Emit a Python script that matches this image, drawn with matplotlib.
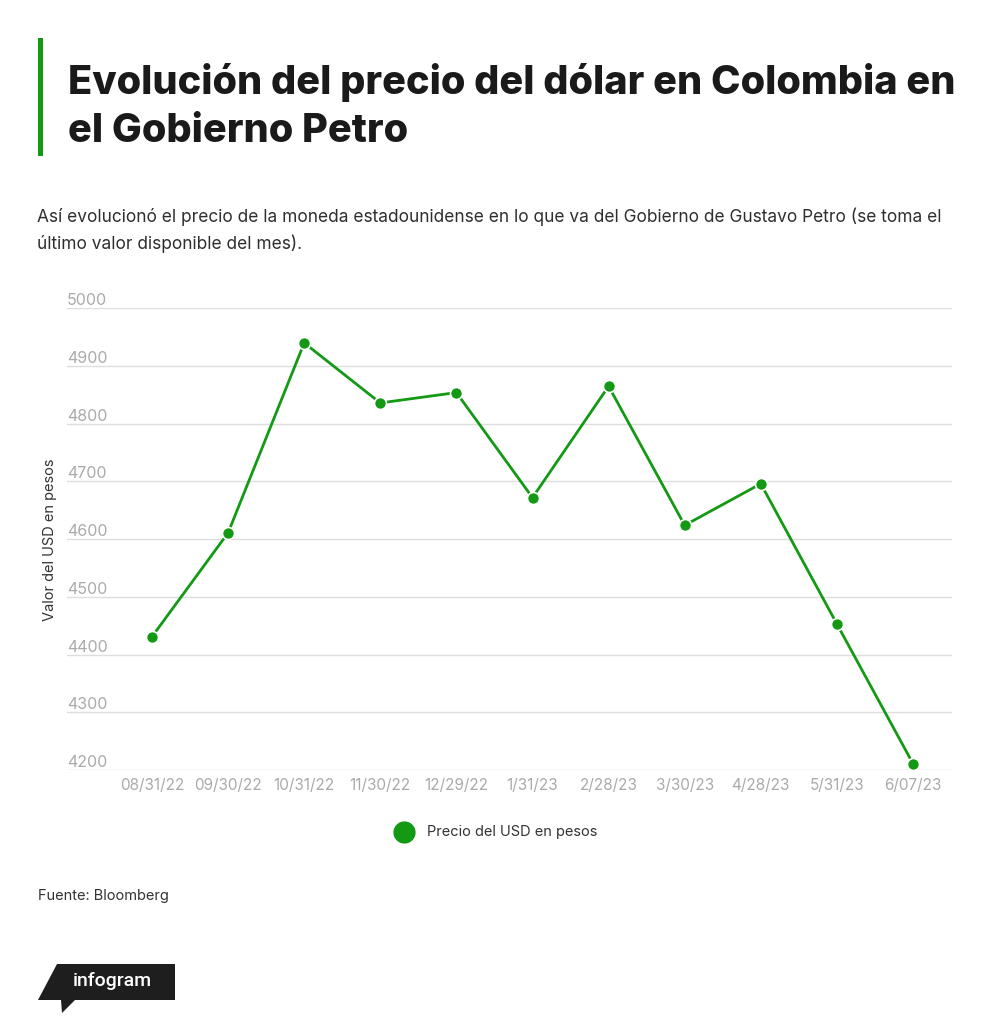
import matplotlib
matplotlib.use("Agg")
import matplotlib.pyplot as plt
from matplotlib.patches import Polygon, Rectangle
from matplotlib.lines import Line2D
import matplotlib.transforms as mtransforms

# ---- data ----
dates = ["08/31/22", "09/30/22", "10/31/22", "11/30/22", "12/29/22", "1/31/23",
         "2/28/23", "3/30/23", "4/28/23", "5/31/23", "6/07/23"]
prices = [4431, 4611, 4940, 4836, 4854, 4672, 4865, 4624, 4696, 4453, 4211]
yticks = [4200, 4300, 4400, 4500, 4600, 4700, 4800, 4900, 5000]

title_lines = ["Evolución del precio del dólar en Colombia en", "el Gobierno Petro"]
subtitle_lines = ["Así evolucionó el precio de la moneda estadounidense en lo que va del Gobierno de Gustavo Petro (se toma el",
                  "último valor disponible del mes)."]
series_name = "Precio del USD en pesos"
y_label = "Valor del USD en pesos"
source = "Fuente: Bloomberg"

GREEN = "#149914"
W, H = 1000, 1033
plt.rcParams['font.family'] = ['Inter', 'DejaVu Sans']

fig = plt.figure(figsize=(W / 100, H / 100), dpi=100)
fig.patch.set_facecolor("white")

def fx(px):
    return px / W

def fy(py):
    return 1 - py / H

renderer = fig.canvas.get_renderer()

def fit_text(x, y, s, target_w, size, **kw):
    t = fig.text(fx(x), fy(y), s, fontsize=size, **kw)
    bb = t.get_window_extent(renderer=renderer)
    t.set_fontsize(size * target_w / bb.width)
    return t

# green bar
fig.patches.append(Rectangle((fx(38), fy(156)), fx(5), 118 / H, transform=fig.transFigure,
                             facecolor=GREEN, edgecolor="none"))

# title
t1 = fit_text(68, 94, title_lines[0], 889, 33, fontweight="heavy", color="#1a1a1a", va="baseline")
fig.text(fx(68), fy(142), title_lines[1], fontweight="heavy", color="#1a1a1a", va="baseline",
         fontsize=t1.get_fontsize())

# subtitle
st = fit_text(37, 217, subtitle_lines[0], 903, 12.5, color="#2e2e2e", va="center")
fig.text(fx(37), fy(244), subtitle_lines[1], fontsize=st.get_fontsize(), color="#2e2e2e",
         va="center")

# ---- chart ----
L, R, B, T = 67, 952, 770, 308.3
ax = fig.add_axes([fx(L), fy(B), (R - L) / W, (B - T) / H])
step = 76.1
x0 = -(152 - L) / step
x1 = x0 + (R - L) / step
ax.set_xlim(x0, x1)
ax.set_ylim(4200, 5000)
for s in ax.spines.values():
    s.set_visible(False)
ax.set_yticks([])
ax.set_xticks(range(len(dates)))
ax.set_xticklabels(dates, fontsize=11, color="#aaaaaa")
ax.tick_params(axis="x", length=0, pad=6)
for v in yticks:
    ax.axhline(v, color="#dddddd", lw=1, zorder=1)
trans = mtransforms.blended_transform_factory(ax.transAxes, ax.transData)
for v in yticks:
    ax.text(0, v, str(v), transform=trans, fontsize=11.5, color="#aaaaaa",
            ha="left", va="bottom")

xs = list(range(len(dates)))
ax.plot(xs, prices, color=GREEN, lw=2, zorder=3)
ax.scatter(xs, prices, s=75, color=GREEN, edgecolor="white", linewidth=1.2, zorder=4)

fig.text(fx(50), fy(540), y_label, rotation=90, fontsize=10.5, color="#333333",
         ha="center", va="center")

# legend
fig.lines.append(Line2D([fx(404)], [fy(832)], transform=fig.transFigure, marker="o",
                        markersize=15, color=GREEN, linestyle="none"))
fig.text(fx(427), fy(832), series_name, fontsize=10.5, color="#333333", va="center")

# source
fig.text(fx(38), fy(896), source, fontsize=10.5, color="#333333", va="center")

# infogram logo
logo = Polygon([(fx(57), fy(964)), (fx(175), fy(964)), (fx(175), fy(1000)), (fx(75), fy(1000)),
                (fx(62), fy(1013)), (fx(61), fy(1000)), (fx(38), fy(1000))],
               closed=True, transform=fig.transFigure, facecolor="#1e1e1e", edgecolor="none")
fig.patches.append(logo)
fig.text(fx(112), fy(981), "infogram", fontsize=14, color="white", ha="center", va="center",
         family=["Roboto", "DejaVu Sans"], fontweight="medium")

fig.savefig("out.png", dpi=100, facecolor="white")
